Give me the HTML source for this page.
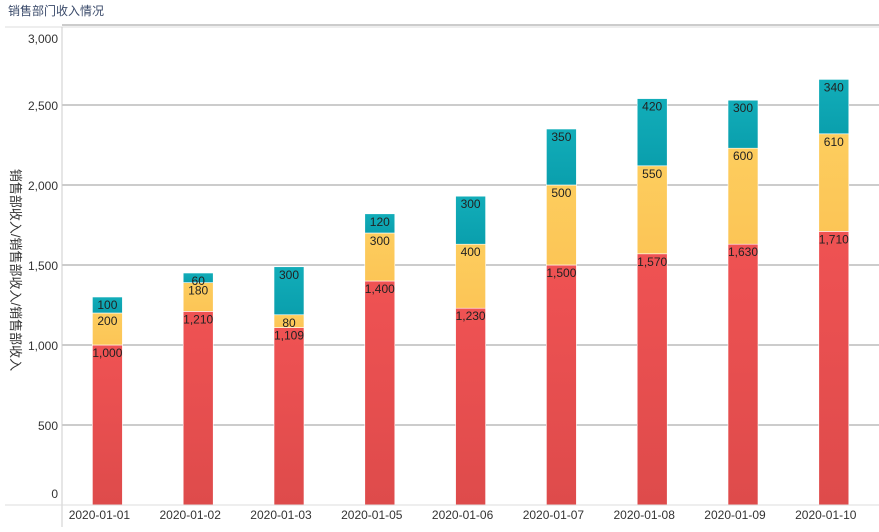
<!DOCTYPE html>
<html><head><meta charset="utf-8"><style>
body{margin:0;background:#fff;font-family:"Liberation Sans","Noto Sans CJK SC",sans-serif;}
svg text{font-family:"Liberation Sans","Noto Sans CJK SC",sans-serif;}
</style></head><body>
<svg id="c" width="879" height="527">
<defs>
<linearGradient id="gr" x1="0" y1="0" x2="0" y2="1"><stop offset="0" stop-color="#ef5253"/><stop offset="1" stop-color="#de4b4b"/></linearGradient>
<linearGradient id="gy" x1="0" y1="0" x2="0" y2="1"><stop offset="0" stop-color="#fdcd5e"/><stop offset="1" stop-color="#fcc556"/></linearGradient>
<linearGradient id="gt" x1="0" y1="0" x2="0" y2="1"><stop offset="0" stop-color="#12adb9"/><stop offset="1" stop-color="#0a9fad"/></linearGradient>
</defs>
<text x="8" y="15" font-size="12" fill="#3a4a6a">销售部门收入情况</text>
<line x1="5" y1="27" x2="879" y2="27" stroke="#ddd"/>
<g id="grid"></g><g id="bars"></g>
<line x1="62" y1="27" x2="62" y2="527" stroke="#ccc"/>
<line x1="5" y1="505" x2="879" y2="505" stroke="#ddd"/>
<text transform="translate(11,270) rotate(90)" text-anchor="middle" font-size="13" fill="#333">销售部收入/销售部收入/销售部收入</text>
</svg>
<script>
const categories=["2020-01-01","2020-01-02","2020-01-03","2020-01-05","2020-01-06","2020-01-07","2020-01-08","2020-01-09","2020-01-10"];
const redValues=[1000,1210,1109,1400,1230,1500,1570,1630,1710];
const yellowValues=[200,180,80,300,400,500,550,600,610];
const tealValues=[100,60,300,120,300,350,420,300,340];
const yTicks=[0,500,1000,1500,2000,2500,3000];
const NS="http://www.w3.org/2000/svg";
const y=v=>505-v*0.16;
const xc=i=>62+(i+0.5)*90.8;
const grid=document.getElementById('grid'),bars=document.getElementById('bars');
function mk(tag,attrs,parent,txt){const e=document.createElementNS(NS,tag);for(const k in attrs)e.setAttribute(k,attrs[k]);if(txt!=null)e.textContent=txt;parent.appendChild(e);return e;}
const fmt=v=>v.toLocaleString('en-US');
yTicks.forEach(t=>{
  if(t>0){const l=mk('line',{x1:62,x2:879,y1:y(t),y2:y(t),stroke:'#999'},grid);
  
  }
  let ly=Math.min(Math.max(y(t),38),493);
  const tx=mk('text',{x:58,y:ly+5,'text-anchor':'end','font-size':12,fill:'#333'},grid,fmt(t));
  
  
});
const series=[[redValues,'url(#gr)','red'],[yellowValues,'url(#gy)','yellow'],[tealValues,'url(#gt)','teal']];
categories.forEach((c,i)=>{
  let base=0;const cx=xc(i),w=30;
  series.forEach(([vals,fill,nm])=>{
    const v=vals[i];
    const r=mk('rect',{x:cx-w/2,y:y(base+v),width:w,height:y(base)-y(base+v),fill:fill,stroke:'#fff','stroke-width':0.6},bars);
    
    
    const t=mk('text',{x:cx,y:y(base+v)+12,'text-anchor':'middle','font-size':12,fill:'#222'},bars,fmt(v));
    
    
    base+=v;
  });
  const xl=mk('text',{x:cx-8,y:519,'text-anchor':'middle','font-size':12,fill:'#333'},bars,c);
  
  
});
</script>
</body></html>
